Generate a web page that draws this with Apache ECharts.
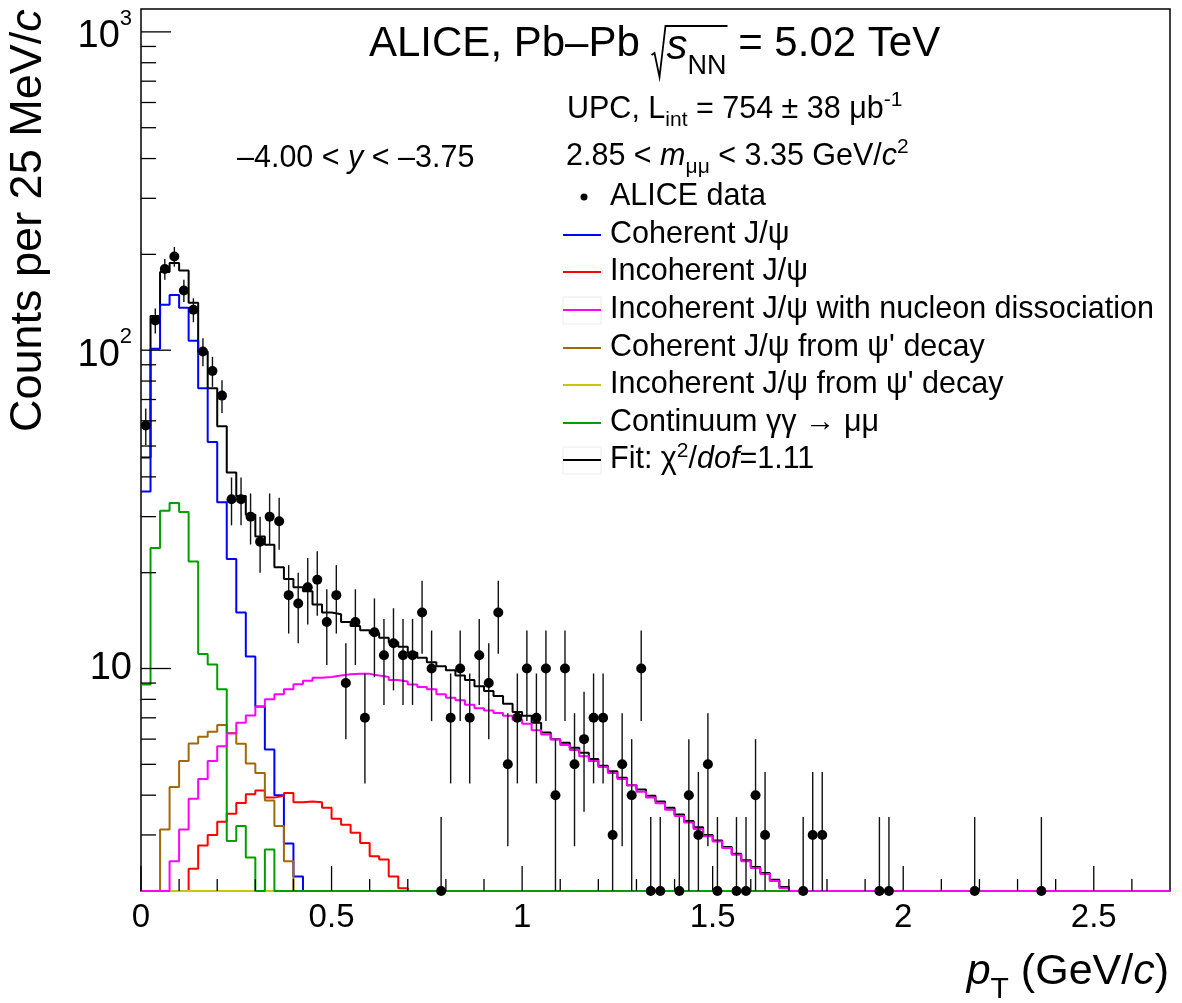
<!DOCTYPE html>
<html>
<head>
<meta charset="utf-8">
<title>ALICE UPC J/psi pT</title>
<script src="https://cdn.jsdelivr.net/npm/echarts@6/dist/echarts.min.js"></script>
<style>
html, body { margin: 0; padding: 0; background: #fff; }
#main { width: 1182px; height: 1003px; }
</style>
</head>
<body>
<div id="main"></div>
<script>
// 25 MeV/c bins from 0 to 2.7 GeV/c
var binWidth = 0.025;
var nBins = 108;
var yMin = 2, yMax = 1180;

// ALICE data: counts per bin (missing bins are empty)
var dataCounts = [58, 124, 180, 197, 154, 134, 99, 86, 72, 34, 34, 30, 25, 30, 29, 17, 16, 18, 19, 14,
  17, 9, 14, 7, 13, 11, 12, 11, 11, 15, 10, 2, 7, 10, 7, 11, 9, 15, 5, 7,
  10, 7, 10, 4, 10, 5, 6, 7, 7, 3, 5, 4, 10, 2, 2, 0, 2, 4, 3, 5,
  2, 0, 2, 2, 4, 3, 0, 0, 0, 2, 3, 3, 0, 0, 0, 0, 0, 2, 2, 0,
  0, 0, 0, 0, 0, 0, 0, 2, 0, 0, 0, 0, 0, 0, 2];

// fit templates, content per bin
var coherent = [36, 101, 139, 149, 136, 107, 76, 51.5, 33.3, 22.1, 15.0, 10.9, 7.6, 5.57, 4.0, 2.82, 2.22];
var incoherent = [0.6, 0.9, 1.2, 1.5, 1.9, 2.35, 2.78, 3.0, 3.3, 3.5, 3.78, 4.03, 4.14, 3.93, 3.98, 4.06, 3.8, 3.82, 3.8, 3.65,
  3.37, 3.23, 3.05, 2.83, 2.57, 2.51, 2.22, 2.04, 1.8, 1.6, 1.4, 1.2, 1.0, 0.9, 0.7, 0.6, 0.5, 0.4, 0.3, 0.3];
var dissociation = [0, 0, 0, 2.48, 3.12, 3.9, 4.5, 5.12, 5.7, 6.25, 6.75, 7.12, 7.58, 8.0, 8.3, 8.6, 8.92, 9.15, 9.35, 9.4,
  9.5, 9.6, 9.62, 9.62, 9.5, 9.4, 9.2, 9.1, 8.9, 8.75, 8.6, 8.3, 8.1, 7.95, 7.7, 7.5, 7.38, 7.25, 7.1, 6.9,
  6.7, 6.4, 6.2, 5.98, 5.75, 5.55, 5.3, 5.12, 4.9, 4.7, 4.5, 4.3, 4.1, 3.93, 3.77, 3.6, 3.44, 3.28, 3.13, 2.97,
  2.86, 2.73, 2.6, 2.48, 2.36, 2.26, 2.15, 2.04, 1.9, 1.8, 1.7, 1.6, 1.5, 1.4, 1.3, 1.2];
var coherentPsi2s = [0, 0, 3.12, 4.24, 5.12, 5.81, 6.1, 6.33, 6.64, 6.27, 5.8, 5.03, 4.7, 3.85, 3.2, 2.48];
var incoherentPsi2s = [0, 0, 0, 0.2, 0.3, 0.4, 0.5, 0.6, 0.7, 0.8, 0.8, 0.9, 0.9, 0.9, 0.9, 0.9, 0.9, 0.8, 0.8, 0.8,
  0.7, 0.7, 0.6, 0.6, 0.5, 0.5, 0.4, 0.4, 0.3, 0.3];
var continuum = [8.9, 23.9, 31.3, 33.1, 31, 21.7, 11.1, 10.3, 8.6, 2.87, 3.2, 2.55, 0.8, 2.7, 0.5, 0.3];
var fitTotal = [46, 128, 176, 188, 178, 141, 99, 76, 57.7, 41.3, 34.8, 30.4, 26.0, 24.5, 20.8, 19.1, 18.0, 17.5, 15.9, 15.0,
  14.8, 14.0, 13.6, 13.2, 12.9, 12.5, 12.1, 11.7, 11.2, 10.8, 10.46, 10.17, 9.88, 9.5, 9.2, 8.8, 8.5, 8.2, 7.75, 7.3,
  7.1, 6.75, 6.3, 6.0, 5.85, 5.64, 5.44, 5.2, 4.95, 4.76, 4.54, 4.3, 4.17, 3.98, 3.82, 3.65, 3.48, 3.32, 3.17, 3.0,
  2.88, 2.75, 2.62, 2.5, 2.38, 2.28, 2.17, 2.06, 1.9, 1.8, 1.7, 1.6, 1.5, 1.4, 1.3, 1.2];

// axis ticks
var xMajorTicks = [0, 0.5, 1, 1.5, 2, 2.5];
var xMinorTicks = [0.1, 0.2, 0.3, 0.4, 0.6, 0.7, 0.8, 0.9, 1.1, 1.2, 1.3, 1.4, 1.6, 1.7, 1.8, 1.9, 2.1, 2.2, 2.3, 2.4, 2.6];
var yMajorTicks = [10, 100, 1000];
var yMinorTicks = [3, 4, 5, 6, 7, 8, 9, 20, 30, 40, 50, 60, 70, 80, 90, 200, 300, 400, 500, 600, 700, 800, 900];

var legendNames = ['ALICE data', 'Coherent J/\u03c8', 'Incoherent J/\u03c8', 'Incoherent J/\u03c8 with nucleon dissociation',
  'Coherent J/\u03c8 from \u03c8\' decay', 'Incoherent J/\u03c8 from \u03c8\' decay', 'Continuum \u03b3\u03b3 \u2192 \u03bc\u03bc'];

var colBlue = '#0000ff', colRed = '#ff0000', colMag = '#ff00ff', colBrown = '#a06a08',
    colYellow = '#c8c800', colGreen = '#009f00', colBlack = '#000000';

var FONT = '"Liberation Sans", Arial, Helvetica, sans-serif';
var ctx2d = document.createElement('canvas').getContext('2d');

function fontOf(p) {
  return (p.it ? 'italic ' : '') + p.size + 'px ' + FONT;
}

// lays out text pieces (sub/superscripts, italics) along one baseline
function textRun(x, base, parts, defSize) {
  var els = [], xs = [];
  parts.forEach(function (p) {
    if (!p.size) p.size = defSize;
    var f = fontOf(p);
    ctx2d.font = f;
    xs.push(x);
    if (p.t) {
      els.push({
        type: 'text', x: x, y: base + (p.dy || 0) - 0.35 * p.size, silent: true,
        style: { text: p.t, font: f, fill: '#000', textAlign: 'left', textVerticalAlign: 'middle',
                 align: 'left', verticalAlign: 'middle' }
      });
      x += ctx2d.measureText(p.t).width;
    }
    x += p.gap || 0;
  });
  xs.push(x);
  return { els: els, xs: xs, end: x };
}

function histPoints(vals) {
  var pts = [];
  for (var i = 0; i < nBins; i++) {
    var v = vals[i] || 0;
    pts.push([+(i * binWidth).toFixed(4), Math.max(v, yMin)]);
  }
  pts.push([nBins * binWidth, Math.max(vals[nBins - 1] || 0, yMin)]);
  return pts;
}

function histSeries(name, vals, color) {
  return {
    name: name, type: 'line', step: 'end', data: histPoints(vals),
    symbol: 'none', clip: true, silent: true,
    lineStyle: { color: color, width: 2 }, itemStyle: { color: color }, z: 3
  };
}

var points = [], errBars = [];
for (var i = 0; i < dataCounts.length; i++) {
  var n = dataCounts[i];
  if (!n) continue;
  var xc = +((i + 0.5) * binWidth).toFixed(4);
  points.push([xc, Math.max(n, yMin)]);
  errBars.push([xc, n - Math.sqrt(n), n + Math.sqrt(n)]);
}

function tickSeries(values, onX, len) {
  return {
    type: 'custom', silent: true, z: 5, clip: false,
    data: values.map(function (v) { return onX ? [v, yMin] : [0, v]; }),
    renderItem: function (params, api) {
      var cs = params.coordSys;
      var p = api.coord([api.value(0), api.value(1)]);
      var shape = onX
        ? { x1: p[0], y1: cs.y + cs.height, x2: p[0], y2: cs.y + cs.height - len }
        : { x1: cs.x, y1: p[1], x2: cs.x + len, y2: p[1] };
      return { type: 'line', shape: shape, style: { stroke: '#000', lineWidth: 1.3 } };
    }
  };
}

// ---------- texts ----------
var graphics = [];
var S = 30.5, SUP = 21;

var TB = 59, TF = 42;
var title = textRun(369, TB, [
  { t: 'ALICE, Pb\u2013Pb ', size: TF },
  { t: '', size: TF, gap: 15 },
  { t: 's', size: TF, it: true, dy: 3 },
  { t: 'NN', size: 27, dy: 17 },
  { t: ' = 5.02 TeV', size: TF }
], TF);
graphics = graphics.concat(title.els);
var rx = title.xs[1];
graphics.push({
  type: 'polyline', silent: true,
  shape: { points: [[rx, TB - 4], [rx + 3, TB - 6], [rx + 8, TB + 18], [rx + 14, TB - 33], [title.xs[4] + 1, TB - 33]] },
  style: { stroke: '#000', lineWidth: 1.8, fill: null }
});

graphics = graphics.concat(textRun(567, 120, [
  { t: 'UPC, L' }, { t: 'int', size: SUP, dy: 8 }, { t: ' = 754 \u00b1 38 \u03bcb' }, { t: '-1', size: SUP, dy: -12 }
], S).els);
graphics = graphics.concat(textRun(566, 167, [
  { t: '2.85 < ' }, { t: 'm', it: true }, { t: '\u03bc\u03bc', size: SUP, dy: 8 }, { t: ' < 3.35 GeV/' },
  { t: 'c', it: true }, { t: '2', size: SUP, dy: -12 }
], S).els);
graphics = graphics.concat(textRun(237, 169, [
  { t: '\u20134.00 < ' }, { t: 'y', it: true }, { t: ' < \u20133.75' }
], S).els);

// legend
var legX1 = 563, legX2 = 601, legTextX = 610;
var legRows = [197, 235, 272, 310, 348, 385, 423, 460];
var legColors = [null, colBlue, colRed, colMag, colBrown, colYellow, colGreen, colBlack];
graphics.push({ type: 'rect', silent: true, shape: { x: legX1, y: legRows[3] - 13, width: legX2 - legX1, height: 27 },
  style: { fill: null, stroke: '#ececec', lineWidth: 1 } });
graphics.push({ type: 'rect', silent: true, shape: { x: legX1, y: legRows[7] - 13, width: legX2 - legX1, height: 27 },
  style: { fill: null, stroke: '#ececec', lineWidth: 1 } });
graphics.push({ type: 'circle', silent: true, shape: { cx: (legX1 + legX2) / 2 + 2, cy: legRows[0], r: 3.5 }, style: { fill: '#000' } });
for (var k = 1; k < 8; k++) {
  graphics.push({ type: 'line', silent: true, shape: { x1: legX1, y1: legRows[k], x2: legX2, y2: legRows[k] },
    style: { stroke: legColors[k], lineWidth: 2 } });
}
for (var k2 = 0; k2 < legendNames.length; k2++) {
  graphics = graphics.concat(textRun(legTextX, legRows[k2] + 0.35 * S, [{ t: legendNames[k2] }], S).els);
}
graphics = graphics.concat(textRun(legTextX, legRows[7] + 0.35 * S, [
  { t: 'Fit: \u03c7' }, { t: '2', size: SUP, dy: -12 }, { t: '/' }, { t: 'dof', it: true }, { t: '=1.11' }
], S).els);

// axis titles
var xTitleParts = [{ t: 'p', it: true }, { t: 'T', size: 30, dy: 13 }, { t: ' (GeV/' }, { t: 'c', it: true }, { t: ')' }];
var xProbe = textRun(0, 0, JSON.parse(JSON.stringify(xTitleParts)), 43);
graphics = graphics.concat(textRun(1169 - xProbe.end, 987, xTitleParts, 43).els);

var yTitle = textRun(0, 0, [{ t: 'Counts per 25 MeV/' }, { t: 'c', it: true }], 45);
graphics.push({ type: 'group', x: 44, y: 432, rotation: Math.PI / 2, children: yTitle.els });

var chart = echarts.init(document.getElementById('main'), null, { renderer: 'canvas' });
var option = {
  animation: false,
  backgroundColor: '#ffffff',
  grid: { left: 141, right: 12, top: 9, bottom: 112, show: true, borderColor: '#000', borderWidth: 1.5,
          containLabel: false, outerBoundsMode: 'none' },
  xAxis: {
    type: 'value', min: 0, max: 2.7, interval: 0.5,
    axisLine: { show: false }, axisTick: { show: false }, splitLine: { show: false },
    axisLabel: { showMaxLabel: false, color: '#000', fontSize: 33, fontFamily: FONT, margin: 10,
      formatter: function (v) { return String(+v.toFixed(1)); } }
  },
  yAxis: {
    type: 'log', logBase: 10, min: yMin, max: yMax,
    axisLine: { show: false }, axisTick: { show: false }, splitLine: { show: false },
    axisLabel: {
      showMinLabel: false, showMaxLabel: false, color: '#000', fontFamily: FONT, margin: 9,
      formatter: function (v) {
        var e = Math.round(Math.log(v) / Math.LN10);
        return e === 1 ? '{b|10}' : '{p|10}{s|' + e + '}';
      },
      rich: {
        b: { fontSize: 38, fontFamily: FONT, color: '#000' },
        p: { fontSize: 38, fontFamily: FONT, color: '#000', padding: [10, 0, 0, 0], verticalAlign: 'bottom' },
        s: { fontSize: 22, fontFamily: FONT, color: '#000', verticalAlign: 'top' }
      }
    }
  },
  graphic: graphics,
  series: [
    histSeries('Fit', fitTotal, colBlack),
    histSeries(legendNames[1], coherent, colBlue),
    histSeries(legendNames[2], incoherent, colRed),
    histSeries(legendNames[4], coherentPsi2s, colBrown),
    histSeries(legendNames[5], incoherentPsi2s, colYellow),
    histSeries(legendNames[6], continuum, colGreen),
    histSeries(legendNames[3], dissociation, colMag),
    {
      name: 'errors', type: 'custom', silent: true, z: 6, clip: false,
      encode: { x: 0, y: [1, 2] },
      data: errBars,
      renderItem: function (params, api) {
        var lo = api.coord([api.value(0), Math.max(api.value(1), yMin)]);
        var hi = api.coord([api.value(0), api.value(2)]);
        return { type: 'line', shape: { x1: lo[0], y1: lo[1], x2: hi[0], y2: hi[1] },
                 style: { stroke: '#111', lineWidth: 1.4 } };
      }
    },
    {
      name: legendNames[0], type: 'scatter', data: points, symbol: 'circle', symbolSize: 10,
      itemStyle: { color: '#000', opacity: 1 }, clip: false, silent: true, z: 7
    },
    tickSeries(xMajorTicks, true, 25),
    tickSeries(xMinorTicks, true, 12),
    tickSeries(yMajorTicks, false, 30),
    tickSeries(yMinorTicks, false, 15)
  ]
};
chart.setOption(option);
</script>
</body>
</html>
